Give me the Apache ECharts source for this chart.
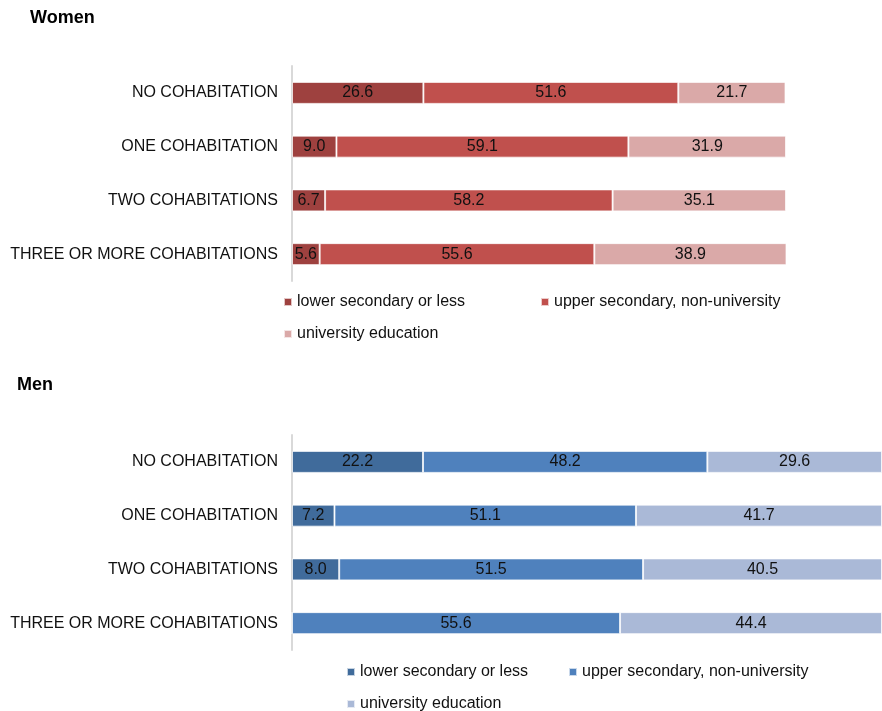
<!DOCTYPE html>
<html>
<head>
<meta charset="utf-8">
<script src="https://cdn.jsdelivr.net/npm/echarts@6/dist/echarts.min.js"></script>
<style>
  html, body { margin: 0; padding: 0; background: #fff; }
  #chart { width: 882px; height: 711px; }
</style>
</head>
<body>
<div id="chart"></div>
<script>
const categories = ['NO COHABITATION', 'ONE COHABITATION', 'TWO COHABITATIONS', 'THREE OR MORE COHABITATIONS'];
const levels = ['lower secondary or less', 'upper secondary, non-university', 'university education'];

// women, % by education level
const womenLower = [26.6, 9.0, 6.7, 5.6];
const womenUpper = [51.6, 59.1, 58.2, 55.6];
const womenUniv = [21.7, 31.9, 35.1, 38.9];

// men, % by education level
const menLower = [22.2, 7.2, 8.0, 0];
const menUpper = [48.2, 51.1, 51.5, 55.6];
const menUniv = [29.6, 41.7, 40.5, 44.4];

const womenColors = ['#9E413F', '#C0504D', '#DAA9A8'];
const menColors = ['#406B9B', '#4F81BD', '#AAB9D7'];

const font = 'Liberation Sans, Arial, sans-serif';

function barSeries(name, data, color, idx) {
  return {
    name: name,
    type: 'bar',
    stack: 'total' + idx,
    xAxisIndex: idx,
    yAxisIndex: idx,
    barWidth: 22,
    data: data,
    itemStyle: { color: color, borderColor: 'rgba(255,255,255,0.7)', borderWidth: 1 },
    label: {
      show: true,
      position: 'inside',
      color: '#111',
      fontSize: 16,
      fontFamily: font,
      formatter: p => p.value > 0 ? p.value.toFixed(1) : ''
    },
    emphasis: { disabled: true }
  };
}

function legendFor(colors, left, top, textWidth, width) {
  return {
    left: left,
    top: top,
    width: width,
    padding: 0,
    itemWidth: 8,
    itemHeight: 8,
    itemGap: 10,
    icon: 'rect',
    selectedMode: false,
    textStyle: { fontSize: 16, fontFamily: font, color: '#111', width: textWidth, lineHeight: 22 },
    data: levels.map((n, i) => ({ name: n, itemStyle: { color: colors[i] } }))
  };
}

const yAxisBase = {
  type: 'category',
  inverse: true,
  data: categories,
  axisTick: { show: false },
  axisLine: { lineStyle: { color: '#D9D9D9', width: 2 } },
  axisLabel: { margin: 14, fontSize: 16, fontFamily: font, color: '#111' }
};

const xAxisBase = {
  type: 'value',
  min: 0,
  max: 100,
  show: false,
  splitLine: { show: false }
};

const chart = echarts.init(document.getElementById('chart'));
chart.setOption({
  animation: false,
  title: [
    { text: 'Women', left: 30, top: 9, padding: 0, textStyle: { fontSize: 18, fontWeight: 'bold', fontFamily: font, color: '#000' } },
    { text: 'Men', left: 17, top: 376, padding: 0, textStyle: { fontSize: 18, fontWeight: 'bold', fontFamily: font, color: '#000' } }
  ],
  grid: [
    { left: 292, top: 66, width: 494, height: 215 },
    { left: 292, top: 435, width: 590, height: 215 }
  ],
  xAxis: [
    Object.assign({ gridIndex: 0 }, xAxisBase),
    Object.assign({ gridIndex: 1 }, xAxisBase)
  ],
  yAxis: [
    Object.assign({ gridIndex: 0 }, yAxisBase),
    Object.assign({ gridIndex: 1 }, yAxisBase)
  ],
  legend: [
    legendFor(womenColors, 283, 291, 233, 520),
    legendFor(menColors, 346, 661, 198, 480)
  ],
  series: [
    barSeries(levels[0], womenLower, womenColors[0], 0),
    barSeries(levels[1], womenUpper, womenColors[1], 0),
    barSeries(levels[2], womenUniv, womenColors[2], 0),
    barSeries(levels[0], menLower, menColors[0], 1),
    barSeries(levels[1], menUpper, menColors[1], 1),
    barSeries(levels[2], menUniv, menColors[2], 1)
  ]
});
</script>
</body>
</html>
